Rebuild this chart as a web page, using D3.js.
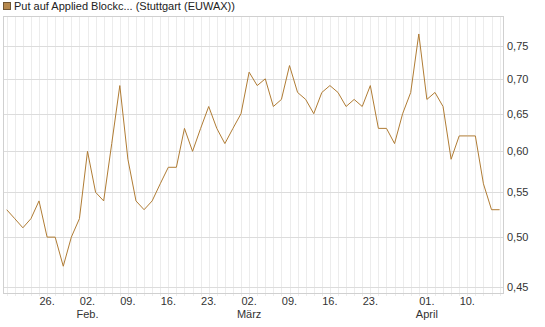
<!DOCTYPE html>
<html>
<head>
<meta charset="utf-8">
<script src="https://cdn.jsdelivr.net/npm/d3@7"></script>
<style>
  body { margin: 0; background: #fff; }
  svg { display: block; font-family: "Liberation Sans", Arial, sans-serif; }
</style>
</head>
<body>
<div id="chart"></div>
<script>
// trading days, Jan 19 - Apr 16 (Easter holidays skipped)
const days = [
  "2026-01-19","2026-01-20","2026-01-21","2026-01-22","2026-01-23",
  "2026-01-26","2026-01-27","2026-01-28","2026-01-29","2026-01-30",
  "2026-02-02","2026-02-03","2026-02-04","2026-02-05","2026-02-06",
  "2026-02-09","2026-02-10","2026-02-11","2026-02-12","2026-02-13",
  "2026-02-16","2026-02-17","2026-02-18","2026-02-19","2026-02-20",
  "2026-02-23","2026-02-24","2026-02-25","2026-02-26","2026-02-27",
  "2026-03-02","2026-03-03","2026-03-04","2026-03-05","2026-03-06",
  "2026-03-09","2026-03-10","2026-03-11","2026-03-12","2026-03-13",
  "2026-03-16","2026-03-17","2026-03-18","2026-03-19","2026-03-20",
  "2026-03-23","2026-03-24","2026-03-25","2026-03-26","2026-03-27",
  "2026-03-30","2026-03-31","2026-04-01","2026-04-02",
  "2026-04-07","2026-04-08","2026-04-09","2026-04-10",
  "2026-04-13","2026-04-14","2026-04-15","2026-04-16"
];
const prices = [
  0.53, 0.52, 0.51, 0.52, 0.54,
  0.50, 0.50, 0.47, 0.50, 0.52,
  0.60, 0.55, 0.54, 0.61, 0.69,
  0.59, 0.54, 0.53, 0.54, 0.56,
  0.58, 0.58, 0.63, 0.60, 0.63,
  0.66, 0.63, 0.61, 0.63, 0.65,
  0.71, 0.69, 0.70, 0.66, 0.67,
  0.72, 0.68, 0.67, 0.65, 0.68,
  0.69, 0.68, 0.66, 0.67, 0.66,
  0.69, 0.63, 0.63, 0.61, 0.65,
  0.68, 0.77, 0.67, 0.68,
  0.66, 0.59, 0.62, 0.62,
  0.62, 0.56, 0.53, 0.53
];
const yTicks = [0.45, 0.50, 0.55, 0.60, 0.65, 0.70, 0.75];
const dayLabels = [
  ["2026-01-26", "26."], ["2026-02-02", "02."], ["2026-02-09", "09."],
  ["2026-02-16", "16."], ["2026-02-23", "23."], ["2026-03-02", "02."],
  ["2026-03-09", "09."], ["2026-03-16", "16."], ["2026-03-23", "23."],
  ["2026-04-01", "01."], ["2026-04-10", "10."]
];
const monthLabels = [["2026-02-02", "Feb."], ["2026-03-02", "März"], ["2026-04-01", "April"]];
const title = "Put auf Applied Blockc... (Stuttgart (EUWAX))";

const width = 545, height = 327;
const plotLeft = 3, plotRight = 503, plotTop = 16, plotBottom = 293;

const svg = d3.select("#chart").append("svg")
    .attr("width", width)
    .attr("height", height);

const x = d3.scalePoint()
    .domain(days)
    .range([6.7, 499.6]);
const y = d3.scaleLog()
    .domain([0.444, 0.80])
    .range([plotBottom, plotTop]);

// vertical grid, one per trading day
svg.append("g")
  .selectAll("line")
  .data(days)
  .enter().append("line")
    .attr("x1", d => Math.round(x(d)) + 0.5)
    .attr("x2", d => Math.round(x(d)) + 0.5)
    .attr("y1", plotTop)
    .attr("y2", plotBottom + 3)
    .style("stroke", "#ececec");

// horizontal grid
svg.append("g")
  .selectAll("line")
  .data(yTicks)
  .enter().append("line")
    .attr("x1", plotLeft)
    .attr("x2", plotRight)
    .attr("y1", d => Math.round(y(d)) + 0.5)
    .attr("y2", d => Math.round(y(d)) + 0.5)
    .style("stroke", "#dcdcdc");

// frame
svg.append("rect")
    .attr("x", plotLeft + 0.5)
    .attr("y", plotTop + 0.5)
    .attr("width", plotRight - plotLeft)
    .attr("height", plotBottom - plotTop)
    .style("fill", "none")
    .style("stroke", "#d0d0d0");

// y labels on the right
svg.append("g")
  .selectAll("text")
  .data(yTicks)
  .enter().append("text")
    .attr("x", 507)
    .attr("y", d => y(d) + 4)
    .style("font-size", "11px")
    .style("fill", "#333")
    .text(d => d3.format(".2f")(d).replace(".", ","));

// x labels
svg.append("g")
  .selectAll("text")
  .data(dayLabels)
  .enter().append("text")
    .attr("x", d => x(d[0]))
    .attr("y", 305)
    .attr("text-anchor", "middle")
    .style("font-size", "11px")
    .style("fill", "#333")
    .text(d => d[1]);

svg.append("g")
  .selectAll("text")
  .data(monthLabels)
  .enter().append("text")
    .attr("x", d => x(d[0]))
    .attr("y", 318)
    .attr("text-anchor", "middle")
    .style("font-size", "11px")
    .style("fill", "#333")
    .text(d => d[1]);

// price line
const line = d3.line()
    .x((d, i) => x(days[i]))
    .y(d => y(d));

svg.append("path")
    .datum(prices)
    .attr("d", line)
    .style("fill", "none")
    .style("stroke", "#b07c34")
    .style("stroke-width", 1);

// legend / title
svg.append("rect")
    .attr("x", 3.5)
    .attr("y", 2.5)
    .attr("width", 7)
    .attr("height", 7)
    .style("fill", "#b5884d")
    .style("stroke", "#6f5532");

svg.append("text")
    .attr("x", 14)
    .attr("y", 10)
    .style("font-size", "11px")
    .style("fill", "#222")
    .text(title);
</script>
</body>
</html>
